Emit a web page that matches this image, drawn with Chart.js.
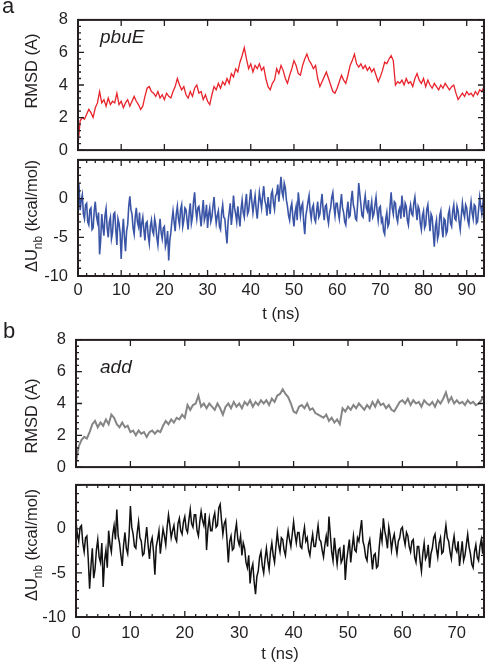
<!DOCTYPE html>
<html>
<head>
<meta charset="utf-8">
<script src="https://cdn.jsdelivr.net/npm/chart.js@4.4.0/dist/chart.umd.min.js"></script>
<style>
  html, body { margin: 0; padding: 0; background: #fff; }
  #wrap { position: relative; width: 488px; height: 664px; overflow: hidden; }
  canvas { position: absolute; left: 0; }
</style>
</head>
<body>
<div id="wrap">
  <canvas id="aTop" width="488" height="170" style="top:0"></canvas>
  <canvas id="aBot" width="488" height="190" style="top:140px"></canvas>
  <canvas id="bTop" width="488" height="167" style="top:320px"></canvas>
  <canvas id="bBot" width="488" height="199" style="top:465px"></canvas>
</div>
<script>
// sampling steps of the traces (ns) and axis ends
const dtRmsd = 0.5;
const dtEnergy = 0.25;
const tMaxA = 94;
const tMaxB = 75;

// panel a, pbuE: RMSD (A), one value every 0.5 ns from t = 0
const rmsdPbuE = [
  0.3,1.8,2.0,1.9,2.2,2.5,2.3,2.0,2.6,2.9,
  3.6,2.9,3.1,2.7,3.2,2.8,3.0,2.9,3.5,2.8,
  3.0,2.6,2.9,3.1,2.7,3.0,3.3,3.0,2.8,2.5,
  2.7,3.3,3.8,3.9,3.6,3.5,3.3,3.6,3.2,3.4,
  3.1,3.5,3.3,3.2,3.6,3.9,4.4,4.0,3.7,3.9,
  3.4,3.2,3.6,3.3,3.8,4.0,3.5,3.6,3.1,3.4,
  3.0,2.8,3.4,3.9,3.7,4.1,3.8,4.2,4.0,4.4,
  4.1,4.7,4.5,5.0,4.8,5.4,5.8,6.3,5.6,5.0,
  5.3,4.8,5.2,5.0,5.3,4.9,5.1,4.4,3.9,3.7,
  4.1,4.3,5.0,4.7,5.2,4.9,4.4,4.1,4.6,5.0,
  5.5,5.2,4.7,4.6,5.2,5.6,5.9,5.5,5.3,5.0,
  5.2,4.4,3.9,4.2,4.5,4.8,4.4,4.0,3.6,3.5,
  3.8,4.2,4.6,4.3,4.1,4.6,5.2,5.5,5.9,5.3,
  5.1,5.3,5.0,5.2,4.9,5.1,4.8,5.0,4.6,4.2,
  4.5,4.9,5.4,5.3,5.6,5.8,5.5,4.0,4.2,4.1,
  4.3,4.0,4.4,4.1,4.2,3.9,4.4,4.7,4.3,4.1,
  4.4,3.9,4.3,4.0,3.8,4.1,3.9,3.7,4.0,3.8,
  4.1,3.9,3.7,3.9,4.0,3.5,3.1,3.3,3.5,3.3,
  3.6,3.4,3.5,3.3,3.6,3.4,3.7,3.6,3.9
];

// panel a, pbuE: dU_nb (kcal/mol), one value every 0.25 ns
const dUPbuE = [
  0.8,1.4,-1.5,-0.2,0.5,-2.0,-2.6,-0.8,-0.6,-3.0,-3.4,-1.4,-1.2,-4.0,-3.8,-1.6,-0.4,-2.2,-3.0,-1.8,
  -7.2,-5.4,-2.0,-3.6,-4.8,-2.2,-1.3,-3.8,-5.0,-3.0,-2.4,-5.2,-4.4,-2.0,-1.8,-4.0,-6.0,-2.6,-3.2,-4.4,
  -7.8,-4.6,-2.6,-5.0,-6.8,-4.2,-3.4,-1.0,0.3,-1.4,-2.0,-3.8,-4.6,-2.4,-1.2,-3.0,-3.6,-1.8,-5.0,-3.2,
  -2.4,-4.0,-5.4,-3.2,-3.0,-4.8,-5.8,-3.6,-2.8,-4.2,-4.6,-2.6,-3.4,-5.0,-6.0,-4.0,-2.6,-4.4,-5.2,-3.8,
  -3.6,-6.2,-5.6,-4.2,-8.0,-5.4,-4.4,-2.8,-1.6,-3.0,-4.2,-2.0,-1.0,-2.6,-3.4,-1.4,-0.8,-3.6,-2.8,-1.2,
  -1.4,-2.8,-4.0,-1.8,-0.6,-3.2,-2.4,-0.4,0.8,-1.4,-2.6,-1.2,-1.0,-2.2,-3.6,-1.8,-0.2,-2.8,-2.2,-0.8,
  -3.8,-2.0,-1.2,-3.0,-2.4,-1.0,0.2,-1.8,-3.2,-2.2,-1.6,-3.6,-4.0,-1.8,-0.8,-2.4,-2.6,-4.4,-5.8,-3.0,
  -1.8,-0.6,-3.4,-2.0,0.4,-1.2,-2.0,-3.0,-1.0,-2.4,-3.6,-1.4,-0.2,-1.8,-2.4,-0.6,0.6,-2.0,-1.6,-0.2,
  1.2,-0.4,-1.8,-0.6,0.4,-1.4,-2.6,-0.8,0.8,-0.2,-1.2,0.4,1.6,-0.2,-0.8,-2.2,0.2,-1.0,-2.0,0.6,
  1.0,-0.6,-1.4,0.4,0.6,1.8,-0.4,1.2,2.8,0.8,0.2,2.0,1.4,-0.2,-1.0,-2.2,-2.8,-1.2,-0.6,-2.4,
  -3.6,-1.8,-1.0,-2.8,0.8,-0.6,-2.2,-1.0,-0.6,-3.0,-4.6,-2.2,-1.4,-0.4,0.4,-1.6,-2.6,-1.2,-0.8,-2.6,
  -3.0,-1.6,-0.4,-2.4,-2.0,-0.6,0.6,-1.4,-2.8,-1.0,-0.8,-2.4,-3.2,-1.8,-1.2,0.2,0.8,-1.0,-2.2,-0.6,
  -0.6,-1.8,-2.6,-0.8,0.6,-1.2,-1.8,-3.0,-3.4,-1.6,-0.4,-2.4,-2.2,-0.2,1.0,-0.8,-1.4,-2.6,-2.8,-0.6,
  2.0,0.6,-0.8,-2.2,-2.4,-0.6,0.4,-1.2,-1.6,-0.2,-3.0,-1.4,-0.4,-2.4,-2.0,-0.8,0.2,-1.6,-2.8,-1.2,
  -1.0,-3.0,-2.6,-4.2,-4.6,-2.6,-1.8,-3.6,-3.2,-1.0,0.8,-1.2,-2.0,-0.4,-0.6,-2.4,-3.0,-1.6,-1.2,-2.6,
  0.4,-1.2,-2.4,-0.6,-1.0,-2.8,-3.4,-1.6,-0.8,-2.0,-2.2,-0.6,0.2,-1.4,-2.8,-1.0,-1.4,-3.2,-4.0,-2.2,
  -1.6,-3.8,-3.4,-1.4,-0.8,-2.6,-4.2,-2.0,-2.4,-4.4,-6.2,-3.6,-2.8,-5.2,-4.6,-2.2,-1.6,-3.8,-5.0,-2.6,
  -2.8,-4.6,-4.2,-2.0,-1.4,-3.2,-3.6,-1.6,-0.8,-2.6,-2.8,-1.0,-1.6,-3.0,-4.0,-2.2,-0.6,-1.8,-2.4,-0.8,
  -1.2,-2.8,-3.4,-1.6,-0.4,-1.8,-2.6,-0.8,-1.0,-3.2,-3.0,-1.4,0.2,-1.0,-2.0,-0.6,-1.6
];

// panel b, add: RMSD (A), every 0.5 ns
const rmsdAdd = [
  0.3,1.3,1.7,1.9,1.8,2.2,2.7,2.9,2.5,2.8,
  2.6,3.0,2.7,3.3,3.1,2.7,2.5,2.8,2.5,2.6,
  2.2,2.3,2.0,2.3,2.1,2.2,1.9,2.2,2.3,2.1,
  2.3,2.2,2.6,2.9,2.7,3.0,2.8,3.1,3.0,3.3,
  3.1,3.9,3.6,3.9,4.0,4.5,3.8,4.0,3.7,4.0,
  3.8,3.6,4.0,3.7,3.3,3.8,4.0,3.7,4.1,3.8,
  4.0,3.7,4.1,3.9,4.2,3.8,4.1,3.9,4.2,4.0,
  4.2,3.9,4.3,4.1,4.5,4.6,4.9,4.6,4.4,4.0,
  3.5,3.4,3.8,3.9,3.7,4.0,3.6,3.7,3.4,3.3,
  3.2,3.1,3.3,2.9,3.1,2.8,3.0,2.7,3.7,3.5,
  3.8,3.6,3.9,3.7,4.0,3.8,3.6,3.9,3.7,4.1,
  3.8,4.2,3.9,4.0,3.7,3.9,3.6,3.5,3.8,4.1,
  4.2,4.0,4.3,3.9,4.2,4.0,4.1,3.8,4.2,4.0,
  3.9,4.1,3.8,4.2,4.0,4.3,4.7,4.1,4.4,4.0,
  4.2,4.0,4.1,3.9,4.2,4.0,4.1,3.9,4.0,4.2,
  4.5
];

// panel b, add: dU_nb (kcal/mol), every 0.25 ns
const dUAdd = [
  0.8,-0.6,-1.4,0.2,0.4,-1.6,-2.6,-1.0,-0.8,-3.4,-6.8,-4.2,-2.2,-5.6,-4.6,-2.4,-1.2,-3.2,-3.8,-1.6,
  -6.6,-3.6,-2.4,-4.4,-0.2,-1.8,-2.6,-0.6,0.4,-1.2,2.2,-0.8,-1.6,-3.0,-4.2,-1.8,-0.4,-2.2,-2.8,-0.8,
  2.6,0.2,-0.6,-2.0,-2.2,-0.4,0.8,-1.0,-1.4,-3.0,-2.8,-1.2,0.2,-1.8,-3.4,-1.6,-1.0,-2.6,-5.2,-2.0,
  -1.2,-0.2,-2.8,-1.4,0.0,-0.8,-1.8,0.2,1.6,0.4,-1.0,-0.2,0.4,-1.0,-1.4,0.6,1.2,-0.2,-0.6,0.8,
  1.4,0.0,-0.4,1.0,2.2,0.6,0.2,1.6,1.6,-0.2,-0.8,0.8,2.0,1.0,0.4,1.8,-2.4,0.0,1.2,-0.2,
  -0.2,1.2,1.8,0.2,0.4,2.4,2.8,1.0,-0.6,0.6,1.0,-1.2,-3.8,-1.4,-0.8,-2.4,-2.2,-0.4,0.6,-1.2,
  -1.8,-0.8,-3.0,-1.6,-2.2,-3.8,-4.4,-3.0,-6.2,-4.6,-4.0,-6.0,-7.4,-5.4,-4.8,-3.2,-2.6,-4.2,-5.0,-3.4,
  -2.2,-3.6,-4.6,-2.6,-1.6,-3.0,-3.8,-2.0,-0.4,-1.8,-2.6,-1.0,-1.2,-2.4,-3.0,-1.4,-0.2,-1.2,-2.0,-0.6,
  0.8,-0.6,-1.6,-0.4,-0.4,-2.0,-2.2,-0.8,0.2,-1.4,-1.0,-2.4,-3.0,-1.6,-0.6,-2.0,-2.0,-0.8,0.4,-1.2,
  -1.4,-2.4,-3.2,-1.8,-0.8,-2.0,1.4,-0.6,-2.6,-3.6,-1.0,-2.6,-4.0,-2.4,-2.2,-3.8,-3.4,-1.8,-5.8,-3.6,
  -2.4,-1.2,-3.8,-2.2,-0.8,-2.4,-2.6,-1.0,-1.4,-0.2,1.0,-1.4,-2.0,-3.2,-3.6,-1.8,-1.2,-2.8,-4.6,-3.0,
  -2.8,-4.4,-4.2,-2.0,-0.4,-1.4,1.2,-0.2,-1.0,-2.2,0.2,-0.8,-2.4,-1.2,-0.6,-1.8,-2.8,-1.4,-1.0,0.0,
  0.2,-1.0,-1.8,-0.4,-0.8,-2.0,-2.6,-1.4,-1.2,-3.2,-3.8,-2.0,-2.0,-3.6,-4.8,-2.8,-1.6,-3.4,-3.0,-1.8,
  -4.4,-2.8,-2.2,-1.0,-0.6,-2.2,-3.2,-1.6,-1.0,-2.8,-2.6,-0.8,0.4,-1.0,-1.4,-2.6,-3.4,-1.8,-0.8,-2.2,
  -2.6,-1.4,-4.2,-2.8,-1.4,-3.6,-3.0,-1.8,-0.6,-2.0,-2.8,-4.0,-4.4,-2.6,-1.8,-3.2,-3.6,-2.0,-1.2,-2.8,
  -0.2
];

const ink = '#231f20';
const fam = "'Liberation Sans', Arial, Helvetica, sans-serif";
Chart.defaults.font.family = fam;
Chart.defaults.font.size = 16.5;
Chart.defaults.color = ink;

const rmsdTitle = [{ t: 'RMSD (A)' }];
const dUTitle = [{ t: '\u0394U' }, { t: 'nb', sub: true }, { t: ' (kcal/mol)' }];

// frame, inward ticks, rotated y title, panel letter and molecule name
const decor = {
  id: 'decor',
  afterDatasetsDraw(chart, args, o) {
    const { ctx, chartArea: ca } = chart;
    const x = chart.scales.x, y = chart.scales.y;
    ctx.save();
    ctx.strokeStyle = ink;
    ctx.lineWidth = 1.3;
    ctx.beginPath();
    const hTick = (v, len) => {
      const px = x.getPixelForValue(v);
      ctx.moveTo(px, ca.top); ctx.lineTo(px, ca.top + len);
      ctx.moveTo(px, ca.bottom); ctx.lineTo(px, ca.bottom - len);
    };
    const vTick = (v, len) => {
      const py = y.getPixelForValue(v);
      ctx.moveTo(ca.left, py); ctx.lineTo(ca.left + len, py);
      ctx.moveTo(ca.right, py); ctx.lineTo(ca.right - len, py);
    };
    for (let i = 0; i * 10 <= x.max; i++) hTick(i * 10, 6);
    if (o.xMinor) for (let i = 0; i * o.xMinor <= x.max; i++) hTick(i * o.xMinor, 3);
    for (let i = 0; y.min + i * o.yMajor <= y.max + 1e-6; i++) vTick(y.min + i * o.yMajor, 6);
    for (let i = 0; y.min + i * o.yMinor <= y.max + 1e-6; i++) vTick(y.min + i * o.yMinor, 3);
    ctx.stroke();
    ctx.lineWidth = 2;
    ctx.strokeRect(ca.left, ca.top, ca.right - ca.left, ca.bottom - ca.top);

    ctx.fillStyle = ink;
    ctx.textBaseline = 'alphabetic';
    // y title, rotated
    ctx.save();
    ctx.translate(o.titleX, o.titleY);
    ctx.rotate(-Math.PI / 2);
    const size = 16.5;
    const fontOf = p => (p.sub ? size * 0.72 : size) + 'px ' + fam;
    let total = 0;
    o.title.forEach(p => { ctx.font = fontOf(p); total += ctx.measureText(p.t).width; });
    let xx = -total / 2;
    ctx.textAlign = 'left';
    o.title.forEach(p => {
      ctx.font = fontOf(p);
      ctx.fillText(p.t, xx, p.sub ? size * 0.3 : 0);
      xx += ctx.measureText(p.t).width;
    });
    ctx.restore();

    if (o.letter) {
      ctx.font = '22px ' + fam;
      ctx.textAlign = 'left';
      ctx.fillText(o.letter, o.letterX, o.letterY);
    }
    if (o.name) {
      ctx.font = 'italic 19px ' + fam;
      ctx.textAlign = 'left';
      ctx.fillText(o.name, o.nameX, o.nameY);
    }
    ctx.restore();
  }
};

function panel(id, o) {
  const xScale = {
    type: 'linear', min: 0, max: o.xMax, display: !!o.xH,
    grid: { display: false, drawTicks: false },
    border: { display: false },
    ticks: { stepSize: 10, includeBounds: false, padding: o.xPad || 0, maxRotation: 0 },
    title: { display: !!o.xH, text: 't (ns)', padding: { top: 0, bottom: o.titlePad || 0 } }
  };
  if (o.xH) xScale.afterFit = s => { s.height = o.xH; };
  return new Chart(document.getElementById(id), {
    type: 'line',
    data: {
      datasets: [{
        data: o.values.map((v, i) => ({ x: i * o.dt, y: v })),
        borderColor: o.color,
        borderWidth: o.width,
        pointRadius: 0,
        tension: 0,
        fill: false
      }]
    },
    options: {
      responsive: false,
      animation: false,
      events: [],
      layout: { padding: o.pad },
      plugins: { legend: { display: false }, tooltip: { enabled: false }, decor: o.decor },
      scales: {
        x: xScale,
        y: {
          min: o.yMin, max: o.yMax,
          grid: { display: false, drawTicks: false },
          border: { display: false },
          ticks: { stepSize: o.decor.yMajor, padding: 10, callback: v => (v === 5 ? '' : String(v)) },
          afterFit: s => { s.width = o.yW; }
        }
      }
    },
    plugins: [decor]
  });
}

panel('aTop', {
  values: rmsdPbuE, dt: dtRmsd, xMax: tMaxA, yMin: 0, yMax: 8, yW: 78,
  color: '#e8232b', width: 1.3,
  pad: { top: 13, right: 4, bottom: 18, left: 0 },
  decor: { yMajor: 2, yMinor: 0.4, title: rmsdTitle, titleX: 37, titleY: 71,
           letter: 'a', letterX: 2, letterY: 13, name: 'pbuE', nameX: 100, nameY: 43 }
});

panel('aBot', {
  values: dUPbuE, dt: dtEnergy, xMax: tMaxA, yMin: -10, yMax: 5, yW: 78,
  color: '#3b55a6', width: 1.6,
  pad: { top: 12, right: 4, bottom: 0, left: 0 },
  xH: 54, xPad: 5, titlePad: 6,
  decor: { yMajor: 5, yMinor: 1, xMinor: 2, title: dUTitle, titleX: 37, titleY: 76 }
});

panel('bTop', {
  values: rmsdAdd, dt: dtRmsd, xMax: tMaxB, yMin: 0, yMax: 8, yW: 76,
  color: '#858585', width: 2,
  pad: { top: 16, right: 4, bottom: 10, left: 0 },
  decor: { yMajor: 2, yMinor: 0.4, title: rmsdTitle, titleX: 37, titleY: 96,
           letter: 'b', letterX: 3, letterY: 18, name: 'add', nameX: 100, nameY: 53 }
});

panel('bBot', {
  values: dUAdd, dt: dtEnergy, xMax: tMaxB, yMin: -10, yMax: 5, yW: 76,
  color: '#111111', width: 1.5,
  pad: { top: 12, right: 4, bottom: 0, left: 0 },
  xH: 47, xPad: 7, titlePad: 0,
  decor: { yMajor: 5, yMinor: 1, xMinor: 2, title: dUTitle, titleX: 37, titleY: 80 }
});
</script>
</body>
</html>
